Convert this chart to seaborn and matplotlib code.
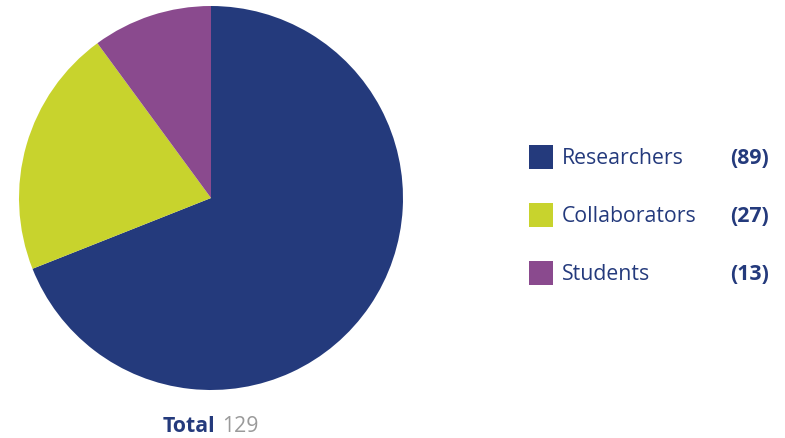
import matplotlib
matplotlib.use("Agg")
import matplotlib.pyplot as plt
from matplotlib.patches import Rectangle
import seaborn as sns

# Team composition
categories = ["Researchers", "Collaborators", "Students"]
counts = [89, 27, 13]
colors = ["#243A7C", "#C8D32D", "#8A4A8E"]

sns.set_theme(style="white")
plt.rcParams["font.family"] = ["Open Sans", "DejaVu Sans"]

W, H = 785, 438
fig = plt.figure(figsize=(W / 100, H / 100), dpi=100)
fig.patch.set_facecolor("white")

# Pie: centre (211, 198) px, radius 192 px
cx, cy, r = 211, 198, 192
ax = fig.add_axes([(cx - r) / W, (H - cy - r) / H, 2 * r / W, 2 * r / H])
palette = sns.color_palette(colors)
ax.pie(counts, colors=palette, startangle=90, counterclock=False,
       radius=1, wedgeprops=dict(linewidth=0))
ax.set_xlim(-1, 1)
ax.set_ylim(-1, 1)
ax.set_aspect("equal")
ax.axis("off")

# Legend drawn in pixel coordinates
lax = fig.add_axes([0, 0, 1, 1])
lax.set_xlim(0, W)
lax.set_ylim(H, 0)
lax.axis("off")
navy = colors[0]
fs = 15.3
row_y = [158, 216, 274]
for name, n, col, y in zip(categories, counts, colors, row_y):
    lax.add_patch(Rectangle((529, y - 13), 24, 24, facecolor=col, edgecolor="none"))
    lax.text(562, y, name, color=navy, fontsize=fs, va="center", ha="left")
    lax.text(769, y, f"({n})", color=navy, fontsize=fs, fontweight="bold",
             va="center", ha="right")

# Total below the pie
total = sum(counts)
lax.text(163, 427, "Total", color=navy, fontsize=fs, fontweight="bold",
         va="center", ha="left")
lax.text(222, 427, f"{total}", color="#9A9A9A", fontsize=fs,
         va="center", ha="left")

fig.savefig("out.png", dpi=100, facecolor="white")
